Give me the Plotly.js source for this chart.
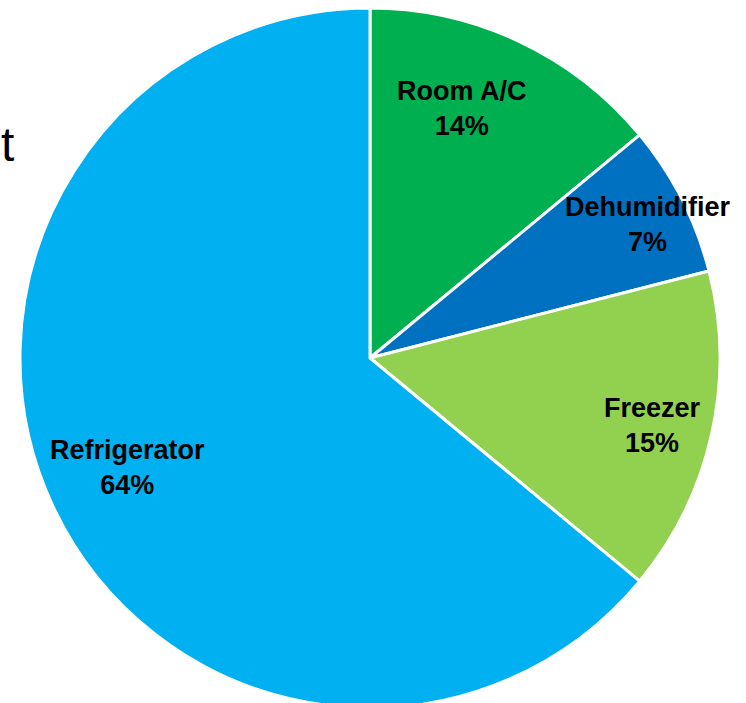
<!DOCTYPE html>
<html>
<head>
<meta charset="utf-8">
<script src="https://cdn.plot.ly/plotly-3.0.1.min.js"></script>
<style>
  html, body { margin: 0; padding: 0; overflow: hidden; background: #fff; }
  #chart { width: 746px; height: 720px; }
</style>
</head>
<body>
<div id="chart"></div>
<script>
// ---- data ----
const categories = ["Room A/C", "Dehumidifier", "Freezer", "Refrigerator"];
const shares = [14, 7, 15, 64];
const sliceColors = ["#00B050", "#0070C0", "#92D050", "#00B0F0"];

// ---- label placement (style, not data) ----
const labelRadius = 0.8;
const labelShiftX = [-27, 29, 9, 11];
const labelShiftY = [-4, 6, -6, 10];

const total = shares.reduce((a, b) => a + b, 0);
let cum = 0;
const annotations = categories.map((c, i) => {
  const mid = (cum + shares[i] / 2) / total * 2 * Math.PI;
  cum += shares[i];
  const pct = Math.round(shares[i] / total * 100);
  return {
    xref: 'paper', yref: 'paper',
    x: 0.5 + 0.5 * labelRadius * Math.sin(mid),
    y: 0.5 + 0.5 * labelRadius * Math.cos(mid),
    xshift: labelShiftX[i], yshift: labelShiftY[i],
    xanchor: 'center', yanchor: 'middle',
    text: '<b>' + c + '</b><br><b>' + pct + '%</b>',
    showarrow: false,
    align: 'center',
    font: { family: 'Liberation Sans, Arial, sans-serif', size: 27, color: '#000' }
  };
});

// Partially hidden title letter at the left edge
annotations.push({
  xref: 'paper', yref: 'paper', x: 0, y: 0.805,
  xshift: -4, xanchor: 'right', yanchor: 'middle',
  text: 't', showarrow: false,
  font: { family: 'Liberation Sans, Arial, sans-serif', size: 48, color: '#000' }
});

const trace = {
  type: 'pie',
  labels: categories,
  values: shares,
  sort: false,
  direction: 'clockwise',
  rotation: 0,
  textinfo: 'none',
  hoverinfo: 'label+percent',
  marker: { colors: sliceColors, line: { color: '#FFFFFF', width: 3 } },
  domain: { x: [0, 1], y: [0, 1] }
};

const layout = {
  width: 746, height: 720,
  margin: { l: 20, r: 26, t: 8, b: 12 },
  showlegend: false,
  paper_bgcolor: '#FFFFFF',
  annotations: annotations
};

Plotly.newPlot('chart', [trace], layout, { displayModeBar: false, staticPlot: true });
</script>
</body>
</html>
